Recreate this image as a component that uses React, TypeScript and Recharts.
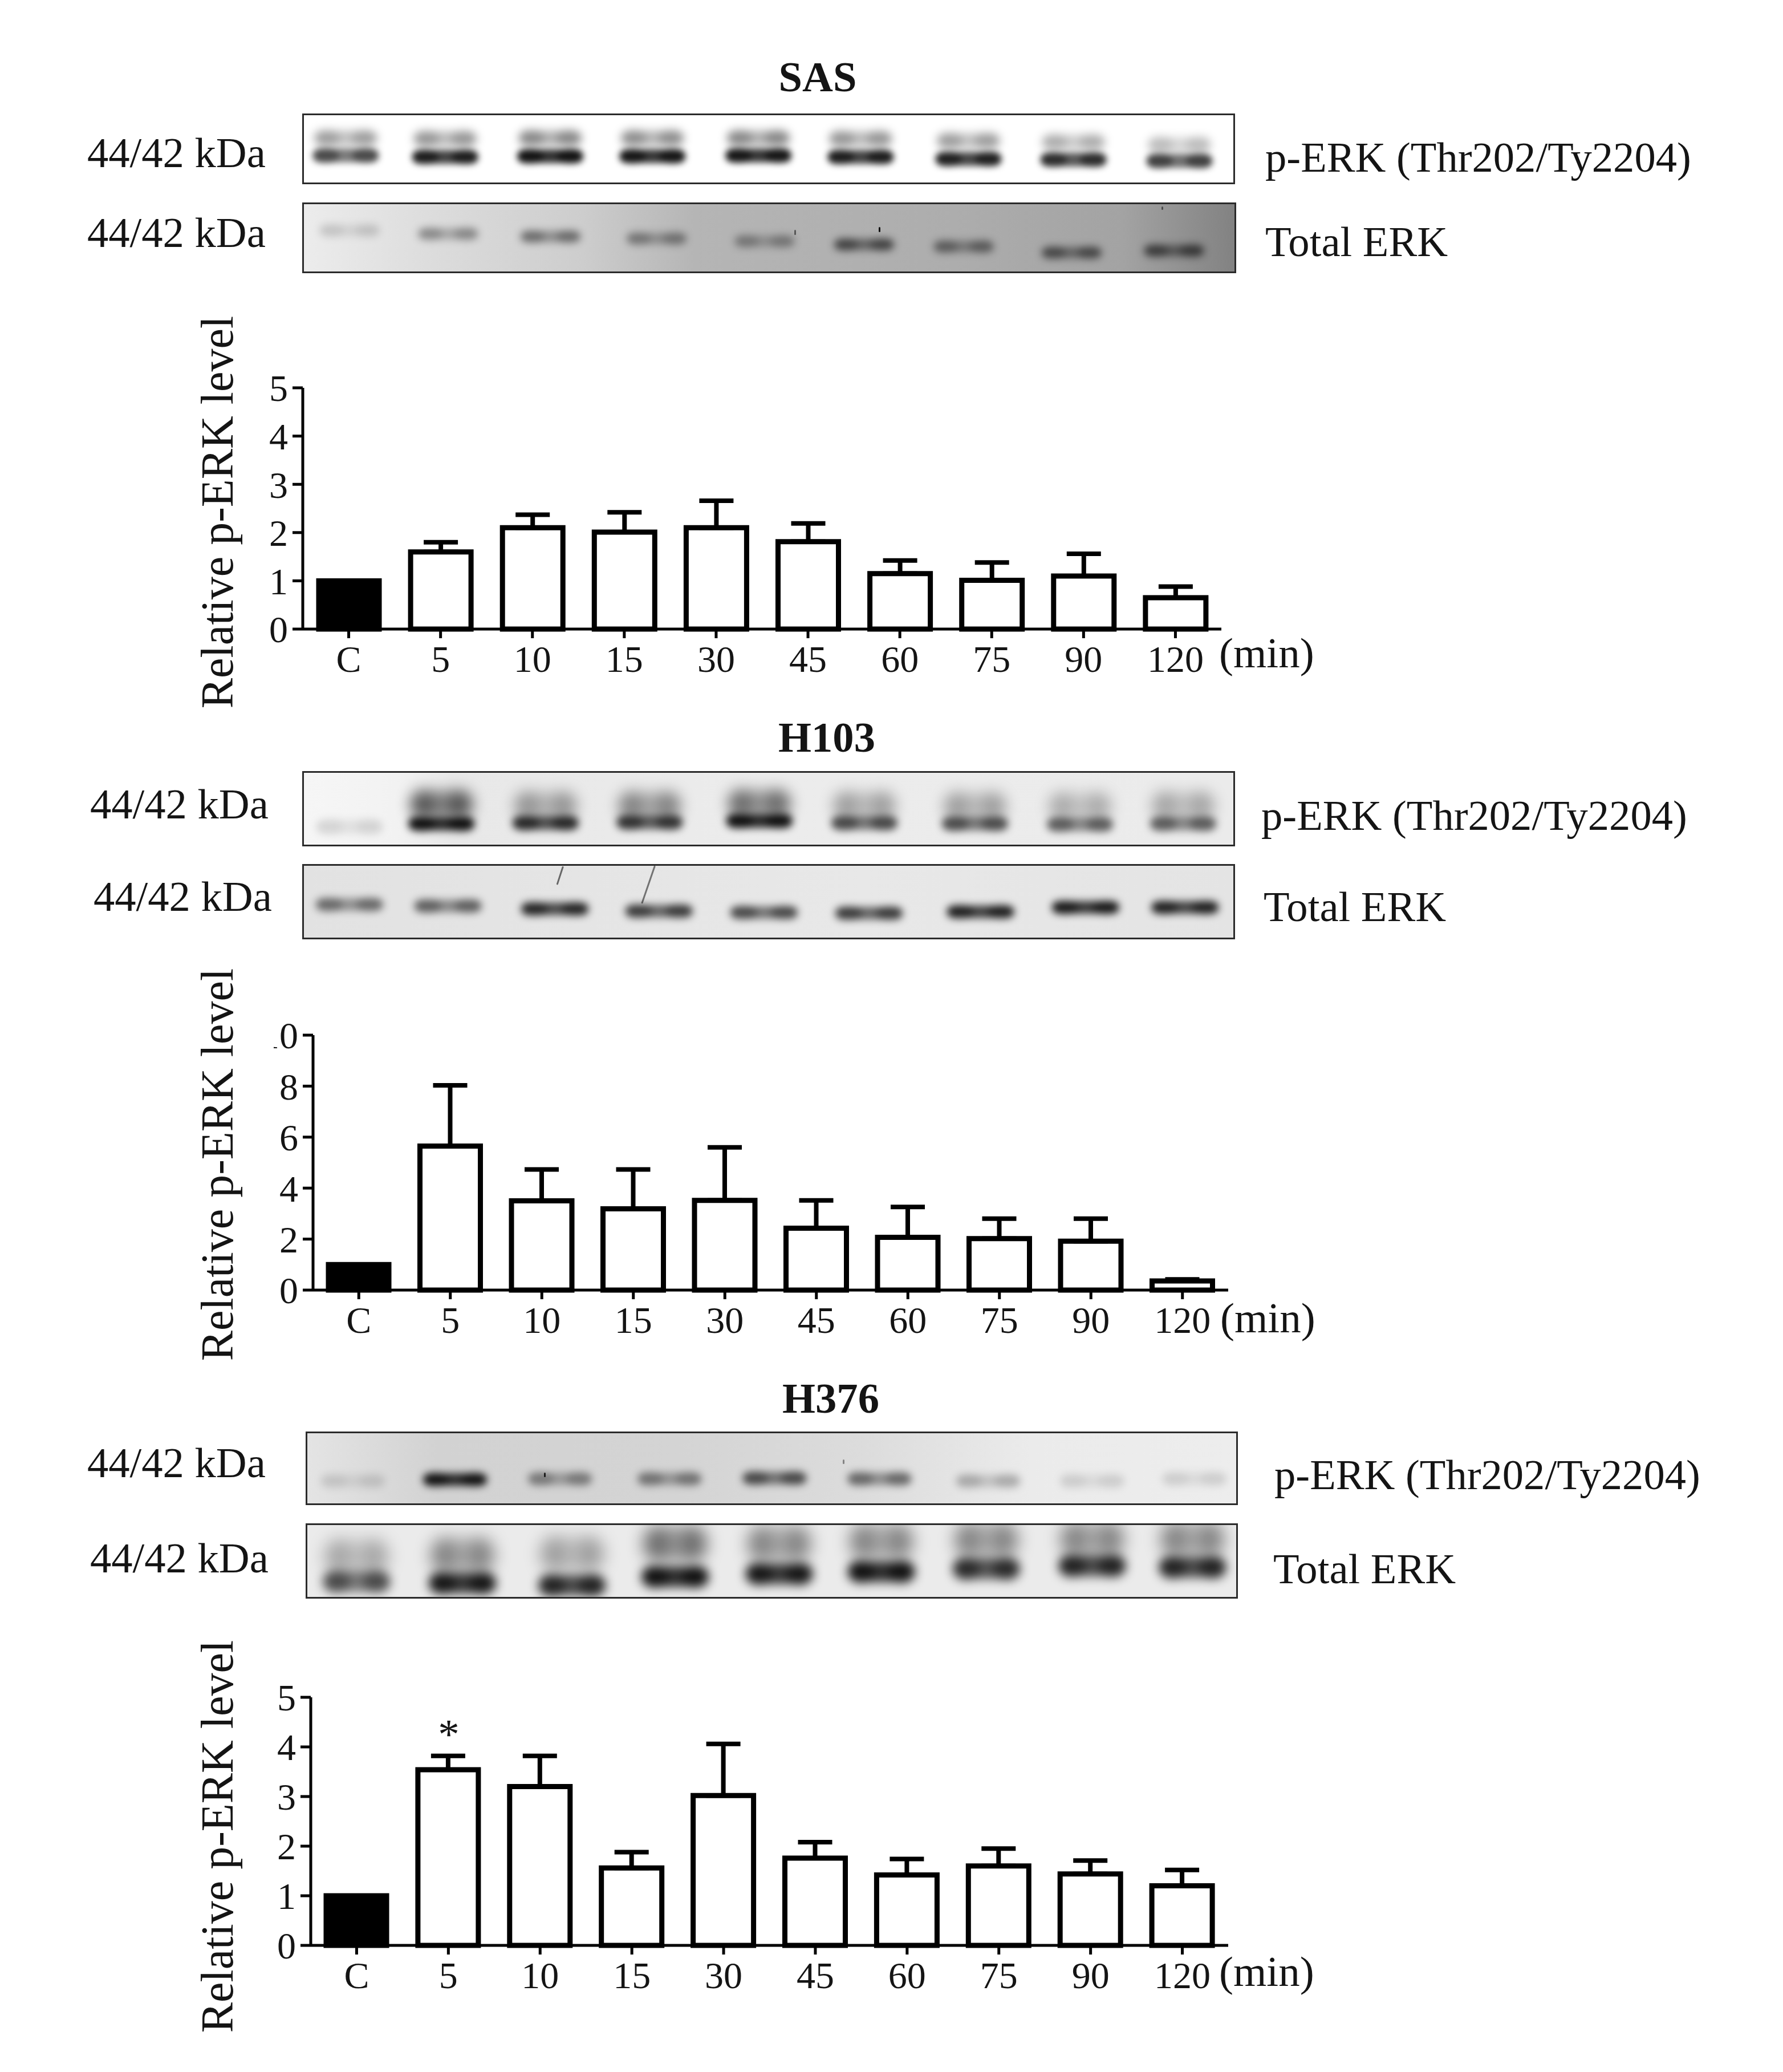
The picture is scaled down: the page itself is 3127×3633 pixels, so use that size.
import { BarChart, Bar, Cell, ErrorBar, XAxis, YAxis, ScatterChart, Scatter } from 'recharts';

const FONT = '"Liberation Serif", "Times New Roman", serif';
const INK = '#141414';

const minutes = ['C', '5', '10', '15', '30', '45', '60', '75', '90', '120'];

// bar heights and whisker tops
const sasMean = [1, 1.6, 2.1, 2.01, 2.1, 1.81, 1.15, 1.01, 1.1, 0.65];
const sasUpper = [1, 1.8, 2.37, 2.42, 2.66, 2.19, 1.42, 1.38, 1.56, 0.88];
const h103Mean = [1, 5.65, 3.5, 3.19, 3.52, 2.43, 2.07, 2.02, 1.92, 0.36];
const h103Upper = [1, 8.03, 4.73, 4.73, 5.6, 3.52, 3.26, 2.8, 2.8, 0.42];
const h376Mean = [1, 3.54, 3.2, 1.56, 3.02, 1.76, 1.42, 1.6, 1.44, 1.2];
const h376Upper = [1, 3.82, 3.82, 1.88, 4.06, 2.08, 1.74, 1.95, 1.71, 1.52];

const sasTicks = [0, 1, 2, 3, 4, 5];
const h103Ticks = [0, 2, 4, 6, 8, 10];
const h376Ticks = [0, 1, 2, 3, 4, 5];

// blot lanes: lane centre and band position in % of the strip, darkness 0-1
const sasPLanes = [4.5, 15.2, 26.5, 37.5, 48.9, 59.9, 71.5, 82.8, 94.2];
const sasPUpperY = [34, 35, 34, 34, 34, 35, 38, 40, 44];
const sasPUpperDark = [0.3, 0.33, 0.38, 0.36, 0.38, 0.33, 0.3, 0.25, 0.2];
const sasPLowerY = [60, 62, 61, 61, 60, 62, 65, 66, 68];
const sasPLowerDark = [0.65, 0.92, 1, 0.98, 0.98, 0.92, 0.9, 0.82, 0.7];

const sasTLanes = [4.9, 15.5, 26.5, 37.9, 49.5, 60.2, 70.9, 82.5, 93.5];
const sasTY = [39, 44, 48, 51, 55, 60, 63, 72, 69];
const sasTDark = [0.12, 0.3, 0.4, 0.33, 0.28, 0.55, 0.4, 0.5, 0.55];

const h103PLanes = [4.9, 14.8, 26, 37.2, 49, 60.3, 72.2, 83.5, 94.6];
const h103PUpperY = [44, 44, 46, 46, 43, 46, 47, 47, 46];
const h103PUpperDark = [0, 0.55, 0.28, 0.35, 0.45, 0.25, 0.25, 0.2, 0.22];
const h103PLowerY = [75, 71, 70, 69, 67, 70, 71, 72, 71];
const h103PLowerDark = [0.1, 1, 0.8, 0.72, 1, 0.6, 0.58, 0.5, 0.5];

const h103TLanes = [4.9, 15.5, 27, 38.2, 49.5, 60.8, 72.8, 84.1, 94.8];
const h103TY = [54, 56, 60, 63, 65, 66, 64, 58, 58];
const h103TDark = [0.45, 0.5, 0.85, 0.7, 0.62, 0.7, 0.9, 0.95, 0.88];

const h376PLanes = [4.9, 15.9, 27.2, 39, 50.3, 61.6, 73.3, 84.5, 95.5];
const h376PY = [68, 66, 65, 65, 64, 65, 68, 68, 65];
const h376PDark = [0.1, 1, 0.35, 0.38, 0.6, 0.45, 0.2, 0.1, 0.1];

const h376TLanes = [5.3, 16.7, 28.5, 39.6, 50.8, 61.8, 73.1, 84.5, 95.3];
const h376TUpperY = [44, 42, 40, 26, 26, 23, 21, 20, 20];
const h376TUpperDark = [0.22, 0.35, 0.25, 0.45, 0.35, 0.35, 0.35, 0.35, 0.35];
const h376TLowerY = [79, 81, 84, 72, 68, 65, 61, 57, 59];
const h376TLowerDark = [0.6, 0.95, 0.85, 1, 0.95, 1, 0.8, 0.85, 0.85];

function bandRow(lanes: number[], ys: number[], dark: number[]) {
  return lanes.map((x, i) => ({ x, y: ys[i], dark: dark[i] }));
}

function bandShape(w: number, h: number, blur: number) {
  return (props: any) => {
    const { cx, cy, payload } = props;
    if (!payload.dark) return <g />;
    return (
      <g style={{ filter: `blur(${blur}px)` }}>
        <rect x={cx - w / 2} y={cy - h / 2} width={w} height={h} rx={h / 2} fill="#000" opacity={payload.dark * 0.8} />
        <ellipse cx={cx - w * 0.3} cy={cy} rx={w * 0.2} ry={h * 0.55} fill="#000" opacity={payload.dark * 0.6} />
        <ellipse cx={cx + w * 0.3} cy={cy} rx={w * 0.2} ry={h * 0.55} fill="#000" opacity={payload.dark * 0.6} />
      </g>
    );
  };
}

interface Row {
  data: { x: number; y: number; dark: number }[];
  w: number;
  h: number;
  blur: number;
}

function Strip({ x, y, w, h, bg, rows }: { x: number; y: number; w: number; h: number; bg: string; rows: Row[] }) {
  return (
    <div
      style={{
        position: 'absolute',
        left: x,
        top: y,
        width: w,
        height: h,
        boxSizing: 'border-box',
        border: '3px solid #2b2b2b',
        background: bg,
        overflow: 'hidden',
      }}
    >
      <ScatterChart width={w - 6} height={h - 6} margin={{ left: 0, right: 0, top: 0, bottom: 0 }}>
        <XAxis type="number" dataKey="x" domain={[0, 100]} hide />
        <YAxis type="number" dataKey="y" domain={[0, 100]} reversed hide />
        {rows.map((r, i) => (
          <Scatter key={i} data={r.data} shape={bandShape(r.w, r.h, r.blur)} isAnimationActive={false} />
        ))}
      </ScatterChart>
    </div>
  );
}

function Caption({ x, base, size = 74.6, bold, center, children }: any) {
  return (
    <div
      style={{
        position: 'absolute',
        left: x,
        top: base - 0.8375 * size,
        fontFamily: FONT,
        fontSize: size,
        lineHeight: 1,
        fontWeight: bold ? 700 : 400,
        color: INK,
        whiteSpace: 'nowrap',
        transform: center ? 'translateX(-50%)' : undefined,
      }}
    >
      {children}
    </div>
  );
}

// dust and scratches on the membranes
function Scratch({ x, y, len, angle, op = 0.6 }: any) {
  return (
    <div
      style={{
        position: 'absolute',
        left: x,
        top: y,
        width: 3,
        height: len,
        borderRadius: 2,
        background: `rgba(0,0,0,${op})`,
        transform: `rotate(${angle}deg)`,
        transformOrigin: 'top',
      }}
    />
  );
}

interface GraphProps {
  left: number;
  top: number;
  right: number;
  bottom: number;
  max: number;
  ticks: number[];
  mean: number[];
  upper: number[];
  labelMid: number;
}

const ROOM = 160; // space above the plot so the long y title is not cut

function Graph({ left, top, right, bottom, max, ticks, mean, upper, labelMid }: GraphProps) {
  const data = minutes.map((m, i) => ({ m, v: mean[i], err: [0, upper[i] - mean[i]] }));
  const chartTop = top - ROOM;
  return (
    <div style={{ position: 'absolute', left: 0, top: chartTop }}>
      <BarChart
        width={right + 30}
        height={bottom - chartTop + 160}
        data={data}
        margin={{ left: 0, right: 30, top: ROOM, bottom: 70 }}
        barCategoryGap={0}
      >
        <XAxis
          dataKey="m"
          interval={0}
          height={90}
          tickSize={16}
          tickMargin={12}
          tickLine={{ stroke: '#000', strokeWidth: 5 }}
          axisLine={{ stroke: '#000', strokeWidth: 5 }}
          tick={{ fontSize: 66, fontFamily: FONT, fill: INK }}
        />
        <YAxis
          type="number"
          width={left}
          domain={[0, max]}
          ticks={ticks}
          interval={0}
          tickSize={18}
          tickMargin={8}
          tickLine={{ stroke: '#000', strokeWidth: 5 }}
          axisLine={{ stroke: '#000', strokeWidth: 5 }}
          tick={{ fontSize: 66, fontFamily: FONT, fill: INK }}
          label={{
            content: () => (
              <text
                x={408}
                y={labelMid - chartTop}
                transform={`rotate(-90 408 ${labelMid - chartTop})`}
                textAnchor="middle"
                fontSize={80}
                fontFamily={FONT}
                fill={INK}
              >
                Relative p-ERK level
              </text>
            ),
          }}
        />
        <Bar dataKey="v" barSize={106} stroke="#000" strokeWidth={9} fill="#fff" isAnimationActive={false}>
          {data.map((d) => (
            <Cell key={d.m} fill={d.m === 'C' ? '#000' : '#fff'} />
          ))}
          <ErrorBar dataKey="err" direction="y" width={30} stroke="#000" strokeWidth={8} isAnimationActive={false} />
        </Bar>
      </BarChart>
    </div>
  );
}

export default function App() {
  return (
    <div style={{ position: 'absolute', left: 0, top: 0, width: 3127, height: 3633, background: '#fff', overflow: 'hidden' }}>
      {/* SAS */}
      <Caption x={1434} base={160} bold center>SAS</Caption>
      <Caption x={153} base={293}>44/42 kDa</Caption>
      <Caption x={153} base={433}>44/42 kDa</Caption>
      <Caption x={2219} base={301}>p-ERK (Thr202/Ty2204)</Caption>
      <Caption x={2219} base={449}>Total ERK</Caption>
      <Caption x={2138} base={1170} size={75}>(min)</Caption>
      <Strip
        x={530} y={199} w={1636} h={124} bg="#fff"
        rows={[
          { data: bandRow(sasPLanes, sasPUpperY, sasPUpperDark), w: 110, h: 26, blur: 8 },
          { data: bandRow(sasPLanes, sasPLowerY, sasPLowerDark), w: 116, h: 24, blur: 6 },
        ]}
      />
      <Strip
        x={530} y={355} w={1638} h={124}
        bg="linear-gradient(90deg, #ececec 0%, #dcdcdc 14%, #cdcdcd 30%, #b5b5b5 42%, #adadad 70%, #a3a3a3 88%, #828282 100%)"
        rows={[{ data: bandRow(sasTLanes, sasTY, sasTDark), w: 105, h: 20, blur: 7 }]}
      />
      <Scratch x={1541} y={398} len={9} angle={0} op={0.9} />
      <Scratch x={1393} y={403} len={9} angle={0} op={0.5} />
      <Scratch x={2037} y={362} len={6} angle={0} op={0.5} />
      <Graph left={531} top={680} right={2142} bottom={1103} max={5} ticks={sasTicks} mean={sasMean} upper={sasUpper} labelMid={898} />

      {/* H103 */}
      <Caption x={1450} base={1318} bold center>H103</Caption>
      <Caption x={158} base={1435}>44/42 kDa</Caption>
      <Caption x={164} base={1597}>44/42 kDa</Caption>
      <Caption x={2212} base={1455}>p-ERK (Thr202/Ty2204)</Caption>
      <Caption x={2216} base={1615}>Total ERK</Caption>
      <Caption x={2140} base={2336} size={75}>(min)</Caption>
      <Strip
        x={530} y={1352} w={1636} h={132}
        bg="linear-gradient(90deg, #f6f6f6 0%, #f2f2f2 10%, #e8e8e8 16%, #ececec 50%, #ebebeb 100%)"
        rows={[
          { data: bandRow(h103PLanes, h103PUpperY, h103PUpperDark), w: 110, h: 48, blur: 12 },
          { data: bandRow(h103PLanes, h103PLowerY, h103PLowerDark), w: 116, h: 24, blur: 7 },
        ]}
      />
      <Strip
        x={530} y={1515} w={1636} h={132} bg="linear-gradient(90deg, #e2e2e2, #e8e8e8 60%, #e4e4e4)"
        rows={[{ data: bandRow(h103TLanes, h103TY, h103TDark), w: 118, h: 22, blur: 7 }]}
      />
      <Scratch x={986} y={1519} len={34} angle={18} op={0.55} />
      <Scratch x={1147} y={1518} len={70} angle={19} op={0.5} />
      <Graph left={549} top={1815} right={2154} bottom={2262} max={10} ticks={h103Ticks} mean={h103Mean} upper={h103Upper} labelMid={2042} />
      {/* the reference crops the flag of the 1 in the top tick */}
      <div style={{ position: 'absolute', left: 440, top: 1780, width: 40, height: 70, background: '#fff' }} />

      {/* H376 */}
      <Caption x={1457} base={2477} bold center>H376</Caption>
      <Caption x={153} base={2590}>44/42 kDa</Caption>
      <Caption x={158} base={2757}>44/42 kDa</Caption>
      <Caption x={2235} base={2611}>p-ERK (Thr202/Ty2204)</Caption>
      <Caption x={2233} base={2776}>Total ERK</Caption>
      <Caption x={2138} base={3482} size={75}>(min)</Caption>
      <Caption x={787} base={3066} size={75} center>*</Caption>
      <Strip
        x={536} y={2510} w={1635} h={129}
        bg="linear-gradient(90deg, #e4e4e4 0%, #d2d2d2 14%, #d4d4d4 40%, #dcdcdc 60%, #ebebeb 78%, #ededed 100%)"
        rows={[{ data: bandRow(h376PLanes, h376PY, h376PDark), w: 112, h: 22, blur: 7 }]}
      />
      <Scratch x={954} y={2582} len={8} angle={0} op={0.8} />
      <Scratch x={1478} y={2559} len={8} angle={0} op={0.4} />
      <Strip
        x={536} y={2671} w={1635} h={132} bg="#ebebeb"
        rows={[
          { data: bandRow(h376TLanes, h376TUpperY, h376TUpperDark), w: 112, h: 60, blur: 14 },
          { data: bandRow(h376TLanes, h376TLowerY, h376TLowerDark), w: 118, h: 36, blur: 9 },
        ]}
      />
      <Graph left={545} top={2976} right={2154} bottom={3411} max={5} ticks={h376Ticks} mean={h376Mean} upper={h376Upper} labelMid={3220} />
    </div>
  );
}
